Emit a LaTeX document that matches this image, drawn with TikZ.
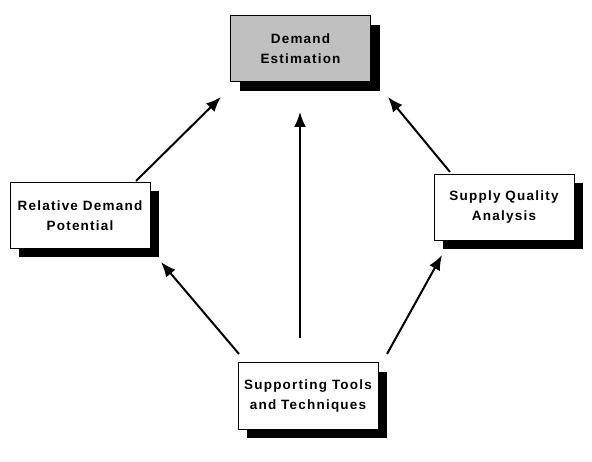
\documentclass[tikz,border=0pt]{standalone}
\usepackage{fontspec}
\setmainfont{Liberation Sans}[LetterSpace=9]
\usepackage{tikz}
\usetikzlibrary{arrows.meta,shadows}

\tikzset{
  box/.style={draw=black, line width=1pt, fill=white, minimum width=140pt,
    minimum height=66pt, inner sep=0pt, align=center,
    font=\fontsize{13.5}{20}\selectfont\bfseries,
    drop shadow={shadow xshift=9pt, shadow yshift=-9pt, fill=black, opacity=1}},
  flow/.style={line width=2pt, -{Latex[length=15pt,width=12pt]}}
}

\begin{document}
\begin{tikzpicture}[x=1pt, y=-1pt]
  \useasboundingbox (0,0) rectangle (592,462);
  % boxes
  \node[box, fill={rgb,255:red,192;green,192;blue,192}] (est) at (300.5,49) {Demand\\Estimation};
  \node[box] (rel) at (80,215.5) {Relative Demand\\Potential};
  \node[box] (sup) at (504,207.5) {Supply Quality\\Analysis};
  \node[box] (tools) at (308,396) {Supporting Tools\\and Techniques};
  % arrow ends
  \coordinate (relout) at (136,181);
  \coordinate (relin) at (161,262);
  \coordinate (estinl) at (221,97);
  \coordinate (estinm) at (300,112);
  \coordinate (estinr) at (388,97);
  \coordinate (supout) at (450,172);
  \coordinate (supin) at (442,255);
  \coordinate (toolsl) at (239,354);
  \coordinate (toolsm) at (300,338);
  \coordinate (toolsr) at (387,354);
  % arrows
  \draw[flow] (relout) -- (estinl);
  \draw[flow] (toolsm) -- (estinm);
  \draw[flow] (supout) -- (estinr);
  \draw[flow] (toolsl) -- (relin);
  \draw[flow] (toolsr) -- (supin);
\end{tikzpicture}
\end{document}
